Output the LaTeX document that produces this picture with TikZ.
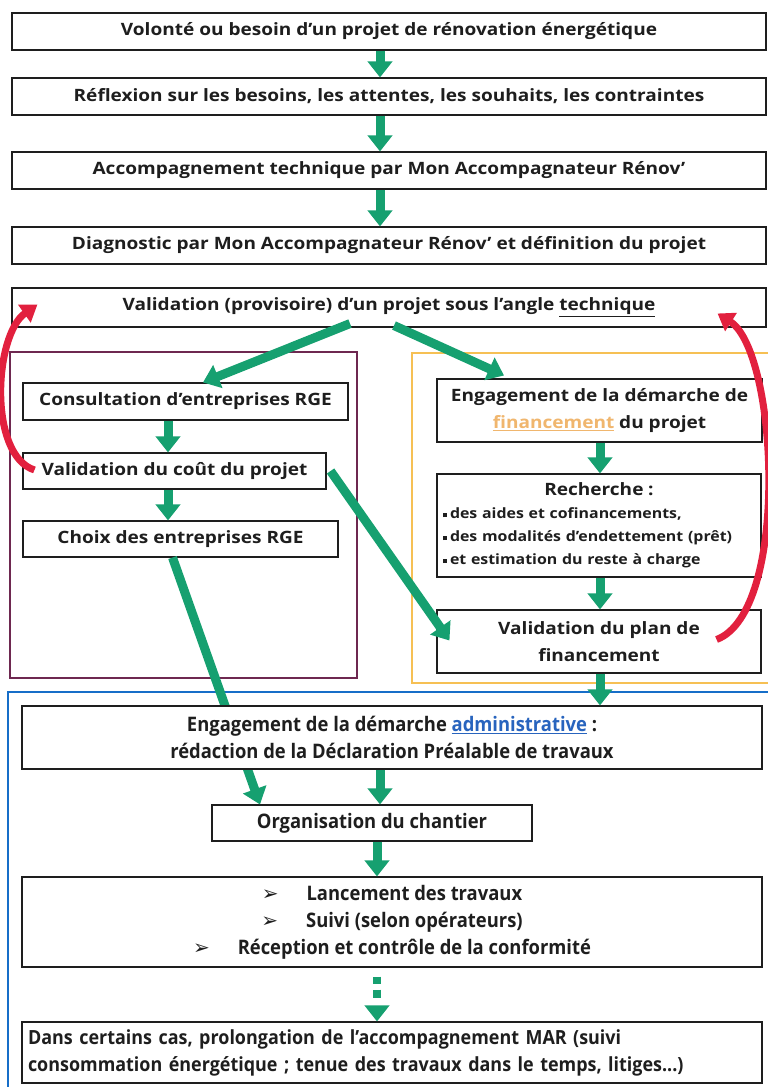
\documentclass[tikz,border=0pt]{standalone}
\usepackage{fontspec}
\setmainfont{Open Sans}[FakeStretch=1.12]
\newfontfamily\narrowf{Open Sans}[FakeStretch=0.92]
\usetikzlibrary{arrows.meta,calc}
\definecolor{grn}{RGB}{22,160,112}
\definecolor{redc}{RGB}{226,32,62}
\definecolor{purp}{RGB}{110,40,80}
\definecolor{oran}{RGB}{246,192,84}
\definecolor{bluf}{RGB}{22,110,200}
\definecolor{txt}{RGB}{30,30,30}
\definecolor{fincol}{RGB}{240,182,110}
\definecolor{admcol}{RGB}{40,100,190}
\newcommand{\blt}{\rule[1.6pt]{4pt}{4pt}\hspace{3pt}}
\newcommand{\arw}{\fontspec{DejaVu Sans}\symbol{"27A2}}
\begin{document}
\begin{tikzpicture}[x=1pt,y=-1pt,
  box/.style={draw=txt,line width=1.1pt,fill=white,inner sep=0pt,text=txt,font=\bfseries\fontsize{17}{27}\selectfont},
  lbox/.style={box,font=\narrowf\bfseries\fontsize{20}{27}\selectfont},
  garrow/.style={draw=grn,line width=9pt,-{Triangle[width=24pt,length=16pt]}},
  rarrow/.style={draw=redc,line width=7pt,-{Triangle[width=21pt,length=16pt]}},
  frame/.style={line width=2.6pt}]
\useasboundingbox (0,0) rectangle (768,1087);
% frames
\draw[frame,purp] (10,352) rectangle (357,678);
\draw[frame,oran] (412,353) rectangle (772,683);
\draw[frame,bluf] (8,692) rectangle (775,1095);
% top boxes
\node[box,minimum width=754pt,minimum height=37pt] (b1) at (389,31.5) {Volonté ou besoin d’un projet de rénovation énergétique};
\node[box,minimum width=754pt,minimum height=37pt] (b2) at (389,96.5) {Réflexion sur les besoins, les attentes, les souhaits, les contraintes};
\node[box,minimum width=754pt,minimum height=37pt] (b3) at (389,170.5) {Accompagnement technique par Mon Accompagnateur Rénov'};
\node[box,minimum width=754pt,minimum height=37pt] (b4) at (389,245.5) {Diagnostic par Mon Accompagnateur Rénov' et définition du projet};
\node[box,minimum width=754pt,minimum height=39pt] (vt) at (389,307.5) {Validation (provisoire) d’un projet sous l’angle \underline{technique}};
% left column
\node[box,minimum width=325pt,minimum height=37pt] (cons) at (185.5,401.5) {Consultation d’entreprises RGE};
\node[box,minimum width=303pt,minimum height=36pt] (coc) at (174.5,471) {Validation du coût du projet};
\node[box,minimum width=315pt,minimum height=36pt] (choix) at (180.5,539) {Choix des entreprises RGE};
% right column
\node[box,minimum width=325pt,minimum height=63pt,align=center] (fin) at (599.5,410.5) {Engagement de la démarche de\\{\color{fincol}\underline{financement}} du projet};
\node[box,minimum width=324pt,minimum height=103pt,text width=312pt,align=left,font=\bfseries\fontsize{14.2}{23}\selectfont] (rech) at (599,525.5) {\makebox[312pt]{\fontsize{17}{23}\selectfont Recherche :}\\\blt des aides et cofinancements,\\\blt des modalités d’endettement (prêt)\\\blt et estimation du reste à charge};
\node[box,minimum width=324pt,minimum height=63pt,align=center] (vplan) at (599,641.5) {Validation du plan de\\financement};
% bottom part
\node[lbox,minimum width=320pt,minimum height=36pt] (org) at (372,823) {Organisation du chantier};
\draw[garrow] ($(choix.south)+(-8,0)$) -- (org.north -| 260,0);
\node[lbox,minimum width=740pt,minimum height=63pt,align=center] (admin) at (392,737.5) {Engagement de la démarche {\color{admcol}\underline{administrative}} :\\rédaction de la Déclaration Préalable de travaux};
\node[lbox,minimum width=740pt,minimum height=90pt,align=center] (lanc) at (392,922) {{\arw}\hspace{28pt}Lancement des travaux\\{\arw}\hspace{28pt}Suivi (selon opérateurs)\\{\arw}\hspace{28pt}Réception et contrôle de la conformité};
\node[lbox,minimum width=740pt,minimum height=61pt,text width=728pt,align=left,font=\narrowf\bfseries\fontsize{19.5}{27}\selectfont] (dans) at (392,1052.5) {Dans certains cas, prolongation de l’accompagnement MAR (suivi\\consommation énergétique ; tenue des travaux dans le temps, litiges...)};
% green arrows
\draw[garrow] (b1.south -| 380,0) -- (b2.north -| 380,0);
\draw[garrow] (b2.south -| 380,0) -- (b3.north -| 380,0);
\draw[garrow] (b3.south -| 380,0) -- (b4.north -| 380,0);
\draw[garrow] ($(vt.south -| 350,0)+(0,-4)$) -- (cons.north -| 203,0);
\draw[garrow] ($(vt.south -| 394,0)+(0,-2)$) -- ($(fin.north -| 504,0)+(0,-3)$);
\draw[garrow] (cons.south -| 168,0) -- (coc.north -| 168,0);
\draw[garrow] (coc.south -| 168,0) -- (choix.north -| 168,0);
\draw[garrow] (fin.south -| 600,0) -- (rech.north -| 600,0);
\draw[garrow] (rech.south -| 600,0) -- (vplan.north -| 600,0);
\draw[garrow] ($(coc.east)+(4,0)$) -- ($(vplan.west)+(13,-1)$);
\draw[garrow] (vplan.south -| 600,0) -- (admin.north -| 600,0);
\draw[garrow] (admin.south -| 380,0) -- (org.north -| 380,0);
\draw[garrow] (org.south -| 377,0) -- (lanc.north -| 377,0);
\draw[garrow,line width=8pt,dash pattern=on 0pt off 9pt on 7pt off 6pt on 8pt off 100pt] (lanc.south -| 377,0) -- (dans.north -| 377,0);
% red arrows
\draw[rarrow] ($(coc.west)+(12,-1)$) .. controls (-12,455) and (-6,335) .. ($(vt.west)+(26,-3)$);
\draw[rarrow] ($(vplan.east)+(-45,-2)$) .. controls (790,612) and (778,352) .. ($(vt.east)+(-49,6)$);
\end{tikzpicture}
\end{document}
